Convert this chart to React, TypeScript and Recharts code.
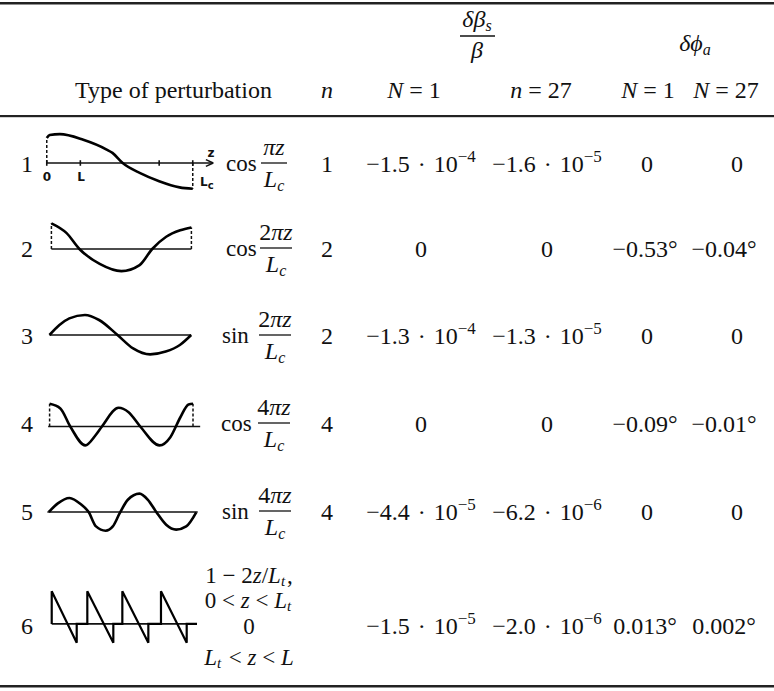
import React from "react";
import { LineChart, Line, XAxis, YAxis, ReferenceLine } from "recharts";

// ---------------- data ----------------
const rowNumbers = ["1", "2", "3", "4", "5", "6"];
const harmonicN = ["1", "2", "2", "4", "4", ""];
const funcNames = ["cos", "cos", "sin", "cos", "sin", ""];
const funcCoef = ["", "2", "2", "4", "4", ""];
const betaN1Mantissa = ["−1.5", "0", "−1.3", "0", "−4.4", "−1.5"];
const betaN1Exponent = ["−4", "", "−4", "", "−5", "−5"];
const betaN27Mantissa = ["−1.6", "0", "−1.3", "0", "−6.2", "−2.0"];
const betaN27Exponent = ["−5", "", "−5", "", "−6", "−6"];
const phiN1 = ["0", "−0.53°", "0", "−0.09°", "0", "0.013°"];
const phiN27 = ["0", "−0.04°", "0", "−0.01°", "0", "0.002°"];
const sawtoothLines = ["1 − 2z/Lt,", "0 < z < Lt", "0", "Lt < z < L"];

// sketched perturbation shapes (z / L, relative amplitude)
const wave1 = [
  { z: 0, a: 0.89 }, { z: 0.02, a: 1.0 }, { z: 0.09, a: 1.03 }, { z: 0.25, a: 0.83 },
  { z: 0.41, a: 0.48 }, { z: 0.45, a: 0.36 }, { z: 0.52, a: 0 }, { z: 0.64, a: -0.36 },
  { z: 0.77, a: -0.65 }, { z: 0.91, a: -0.87 }, { z: 1.0, a: -0.92 },
];
const wave2 = [
  { z: 0, a: 1.07 }, { z: 0.107, a: 0.67 }, { z: 0.2, a: 0 }, { z: 0.345, a: -0.62 },
  { z: 0.5, a: -0.92 }, { z: 0.63, a: -0.67 }, { z: 0.72, a: 0 }, { z: 0.82, a: 0.51 },
  { z: 0.92, a: 0.78 }, { z: 1.0, a: 0.9 },
];
const wave3 = [
  { z: 0, a: 0 }, { z: 0.07, a: 0.5 }, { z: 0.14, a: 0.83 }, { z: 0.25, a: 1.0 },
  { z: 0.35, a: 0.75 }, { z: 0.48, a: 0 }, { z: 0.59, a: -0.67 }, { z: 0.71, a: -0.97 },
  { z: 0.82, a: -0.83 }, { z: 0.92, a: -0.5 }, { z: 1.0, a: 0 },
];
const wave4 = [
  { z: 0, a: 1.08 }, { z: 0.075, a: 0.86 }, { z: 0.144, a: 0 }, { z: 0.249, a: -0.9 },
  { z: 0.319, a: -0.43 }, { z: 0.365, a: 0 }, { z: 0.481, a: 0.89 }, { z: 0.551, a: 0.68 },
  { z: 0.632, a: 0 }, { z: 0.767, a: -0.9 }, { z: 0.842, a: -0.51 }, { z: 0.912, a: 0.44 },
  { z: 0.969, a: 1.05 }, { z: 1.0, a: 1.08 },
];
const wave5 = [
  { z: 0, a: 0 }, { z: 0.061, a: 0.48 }, { z: 0.14, a: 0.78 }, { z: 0.22, a: 0.41 },
  { z: 0.27, a: 0 }, { z: 0.32, a: -0.8 }, { z: 0.385, a: -1.04 }, { z: 0.434, a: -0.8 },
  { z: 0.48, a: -0.08 }, { z: 0.536, a: 0.68 }, { z: 0.615, a: 1.02 }, { z: 0.672, a: 0.68 },
  { z: 0.729, a: 0 }, { z: 0.796, a: -0.71 }, { z: 0.864, a: -0.98 }, { z: 0.932, a: -0.8 },
  { z: 1.0, a: -0.02 },
];
const wave6 = [
  { z: 0, a: 0 }, { z: 0, a: 1.0 }, { z: 0.172, a: -0.58 }, { z: 0.172, a: 0 },
  { z: 0.245, a: 0 }, { z: 0.245, a: 1.0 }, { z: 0.424, a: -0.58 }, { z: 0.424, a: 0 },
  { z: 0.486, a: 0 }, { z: 0.486, a: 1.0 }, { z: 0.665, a: -0.58 }, { z: 0.665, a: 0 },
  { z: 0.752, a: 0 }, { z: 0.752, a: 1.0 }, { z: 0.929, a: -0.58 }, { z: 0.929, a: 0 },
  { z: 1.0, a: 0 },
];
const wave1Ticks = [0, 0.23, 0.77, 1.0];

// ---------------- layout ----------------
const W = 774;
const H = 691;
const FONT = "'Liberation Serif', 'Times New Roman', serif";
const INK = "#111";
const ROW_Y = [164, 249, 336, 424, 512, 626];
const ROWNUM_X = 27;
const N_X = 327;
const C1_X = 421;
const C2_X = 547;
const C3_X = 645;
const C3_ZERO_X = 647;
const C4_X = 724;
const C4_ZERO_X = 737;
const FUNC_X = [226, 226, 222, 221, 222];
const FRAC_X = [274, 276, 275, 274, 275];
const FRAC_W = [26, 32, 32, 32, 32];
const SAW_BASE = [583, 608, 634, 665];

type Seg = { z1: number; a1: number; z2: number; a2: number };

function MiniWave(props: {
  data: { z: number; a: number }[];
  x0: number; x1: number; axisY: number; A: number;
  zMin: number; zMax: number; axisFrom: number; axisTo: number;
  dashed?: Seg[]; extra?: Seg[]; curve: "monotone" | "linear"; sw?: number;
}) {
  const { data, x0, x1, axisY, A, zMin, zMax, axisFrom, axisTo, dashed = [], extra = [], curve, sw = 2.6 } = props;
  const aMin = -1.5;
  const aMax = 1.5;
  const span = x1 - x0;
  const left = x0 + zMin * span;
  const width = (zMax - zMin) * span;
  const top = axisY - aMax * A;
  const height = (aMax - aMin) * A;
  return (
    <div style={{ position: "absolute", left, top }}>
      <LineChart width={width} height={height} data={data} margin={{ top: 0, right: 0, bottom: 0, left: 0 }}>
        <XAxis type="number" dataKey="z" domain={[zMin, zMax]} hide allowDataOverflow />
        <YAxis type="number" domain={[aMin, aMax]} hide allowDataOverflow />
        <ReferenceLine
          segment={[{ x: axisFrom, y: 0 }, { x: axisTo, y: 0 }]}
          stroke={INK} strokeWidth={1.6} ifOverflow="visible"
        />
        {dashed.map((s, i) => (
          <ReferenceLine key={"d" + i}
            segment={[{ x: s.z1, y: s.a1 }, { x: s.z2, y: s.a2 }]}
            stroke={INK} strokeWidth={1.5} strokeDasharray="3 2" ifOverflow="visible"
          />
        ))}
        {extra.map((s, i) => (
          <ReferenceLine key={"e" + i}
            segment={[{ x: s.z1, y: s.a1 }, { x: s.z2, y: s.a2 }]}
            stroke={INK} strokeWidth={1.6} ifOverflow="visible"
          />
        ))}
        <Line dataKey="a" type={curve} stroke="#000" strokeWidth={sw} dot={false} isAnimationActive={false} />
      </LineChart>
    </div>
  );
}

function Exp({ x, y, m, e }: { x: number; y: number; m: string; e: string }) {
  if (!e) {
    return <text x={x} y={y} textAnchor="middle">{m}</text>;
  }
  return (
    <text x={x} y={y} textAnchor="middle">
      {m + "\u00A0\u200A·\u00A0\u200A" + "10"}
      <tspan dy={-10} fontSize={17}>{e}</tspan>
    </text>
  );
}

function Frac({ cx, axisY, coef, w }: { cx: number; axisY: number; coef: string; w: number }) {
  return (
    <g>
      <text x={cx} y={axisY - 8} textAnchor="middle">
        {coef}
        <tspan fontStyle="italic">πz</tspan>
      </text>
      <line x1={cx - w / 2} x2={cx + w / 2} y1={axisY} y2={axisY} stroke={INK} strokeWidth={1.3} />
      <text x={cx} y={axisY + 24} textAnchor="middle" fontStyle="italic">
        L<tspan fontSize={16} dy={4}>c</tspan>
      </text>
    </g>
  );
}

function ItalicSubs({ x, y, s }: { x: number; y: number; s: string }) {
  const parts: React.ReactNode[] = [];
  let i = 0;
  let k = 0;
  while (i < s.length) {
    const ch = s[i];
    if (ch === "L" && s[i + 1] === "t") {
      parts.push(<tspan key={k++} fontStyle="italic">L</tspan>);
      parts.push(<tspan key={k++} fontStyle="italic" fontSize={15} dy={3}>t</tspan>);
      parts.push(<tspan key={k++} dy={-3}>{"\u200A"}</tspan>);
      i += 2;
    } else if (ch === "z" || ch === "L") {
      parts.push(<tspan key={k++} fontStyle="italic">{ch}</tspan>);
      i += 1;
    } else {
      parts.push(<tspan key={k++}>{ch === " " ? "\u00A0" : ch}</tspan>);
      i += 1;
    }
  }
  return <text x={x} y={y} textAnchor="middle" fontSize={23}>{parts}</text>;
}

export default function App() {
  const base = (r: number) => ROW_Y[r] + 8;
  return (
    <div style={{ position: "absolute", left: 0, top: 0, width: W, height: H, background: "#fff", overflow: "hidden" }}>
      {/* perturbation sketches */}
      <MiniWave data={wave1} x0={47} x1={193} axisY={163} A={28} zMin={-0.06} zMax={1.22}
        axisFrom={0} axisTo={1.14} curve="monotone"
        dashed={[{ z1: 0, a1: 0, z2: 0, a2: 0.89 }, { z1: 1, a1: 0, z2: 1, a2: -0.92 }]}
        extra={[
          ...wave1Ticks.map((t) => ({ z1: t, a1: -0.1, z2: t, a2: 0.1 })),
          { z1: 1.14, a1: 0, z2: 1.09, a2: 0.12 },
          { z1: 1.14, a1: 0, z2: 1.09, a2: -0.12 },
        ]}
      />
      <MiniWave data={wave2} x0={51.7} x1={191.7} axisY={249} A={24} zMin={-0.06} zMax={1.06}
        axisFrom={0} axisTo={1} curve="monotone"
        dashed={[{ z1: 0, a1: 0, z2: 0, a2: 1.07 }, { z1: 1, a1: 0, z2: 1, a2: 0.9 }]}
      />
      <MiniWave data={wave3} x0={50} x1={191.7} axisY={335} A={20} zMin={-0.06} zMax={1.06}
        axisFrom={0} axisTo={1} curve="monotone"
      />
      <MiniWave data={wave4} x0={49.3} x1={192.7} axisY={426} A={21} zMin={-0.06} zMax={1.1}
        axisFrom={-0.01} axisTo={1.05} curve="monotone"
        dashed={[{ z1: 0, a1: 0, z2: 0, a2: 1.08 }, { z1: 1, a1: 0, z2: 1, a2: 1.08 }]}
      />
      <MiniWave data={wave5} x0={49.3} x1={196.7} axisY={512.3} A={18} zMin={-0.06} zMax={1.06}
        axisFrom={-0.01} axisTo={1.01} curve="monotone"
      />
      <MiniWave data={wave6} x0={51.7} x1={197} axisY={624} A={32.6} zMin={-0.06} zMax={1.06}
        axisFrom={0} axisTo={1} curve="linear" sw={2.2}
      />

      {/* table text */}
      <svg width={W} height={H} style={{ position: "absolute", left: 0, top: 0 }}
        fontFamily={FONT} fontSize={24} fill={INK}>
        {/* rules */}
        <rect x={0} y={2} width={W} height={2.5} fill="#222" />
        <rect x={0} y={115} width={W} height={2.2} fill="#222" />
        <rect x={0} y={685} width={W} height={2.5} fill="#222" />

        {/* header */}
        <text x={477} y={27} textAnchor="middle" fontStyle="italic">
          δβ<tspan fontSize={16} dy={4}>s</tspan>
        </text>
        <line x1={460} x2={495} y1={36} y2={36} stroke={INK} strokeWidth={1.3} />
        <text x={477} y={58} textAnchor="middle" fontStyle="italic">β</text>
        <text x={695} y={51} textAnchor="middle" fontStyle="italic">
          δϕ<tspan fontSize={16} dy={4}>a</tspan>
        </text>

        <text x={75} y={98}>Type of perturbation</text>
        <text x={N_X} y={98} textAnchor="middle" fontStyle="italic">n</text>
        <text x={414} y={98} textAnchor="middle"><tspan fontStyle="italic">N</tspan> = 1</text>
        <text x={541} y={98} textAnchor="middle"><tspan fontStyle="italic">n</tspan> = 27</text>
        <text x={648} y={98} textAnchor="middle"><tspan fontStyle="italic">N</tspan> = 1</text>
        <text x={726} y={98} textAnchor="middle"><tspan fontStyle="italic">N</tspan> = 27</text>

        {/* sketch labels row 1 */}
        <g fontFamily="'DejaVu Sans', sans-serif" fontSize={12} fontWeight="bold">
          <text x={47} y={181} textAnchor="middle">0</text>
          <text x={81} y={181} textAnchor="middle">L</text>
          <text x={211} y={157} textAnchor="middle">z</text>
          <text x={200} y={186}>L<tspan fontSize={10} dy={3}>c</tspan></text>
        </g>

        {/* rows */}
        {rowNumbers.map((r, i) => (
          <text key={"r" + i} x={ROWNUM_X} y={base(i)} textAnchor="middle">{r}</text>
        ))}
        {funcNames.slice(0, 5).map((f, i) => (
          <g key={"f" + i}>
            <text x={FUNC_X[i]} y={ROW_Y[i] + 7} fontSize={23}>{f}</text>
            <Frac cx={FRAC_X[i]} axisY={ROW_Y[i] - 1} coef={funcCoef[i]} w={FRAC_W[i]} />
          </g>
        ))}
        {sawtoothLines.map((s, i) => (
          <ItalicSubs key={"s" + i} x={249} y={SAW_BASE[i]} s={s} />
        ))}
        {harmonicN.map((n, i) => (
          <text key={"n" + i} x={N_X} y={base(i)} textAnchor="middle">{n}</text>
        ))}
        {betaN1Mantissa.map((m, i) => (
          <Exp key={"b1" + i} x={C1_X} y={base(i)} m={m} e={betaN1Exponent[i]} />
        ))}
        {betaN27Mantissa.map((m, i) => (
          <Exp key={"b2" + i} x={C2_X} y={base(i)} m={m} e={betaN27Exponent[i]} />
        ))}
        {phiN1.map((v, i) => (
          <text key={"p1" + i} x={v === "0" ? C3_ZERO_X : C3_X} y={base(i)} textAnchor="middle">{v}</text>
        ))}
        {phiN27.map((v, i) => (
          <text key={"p2" + i} x={v === "0" ? C4_ZERO_X : C4_X} y={base(i)} textAnchor="middle">{v}</text>
        ))}
      </svg>
    </div>
  );
}
